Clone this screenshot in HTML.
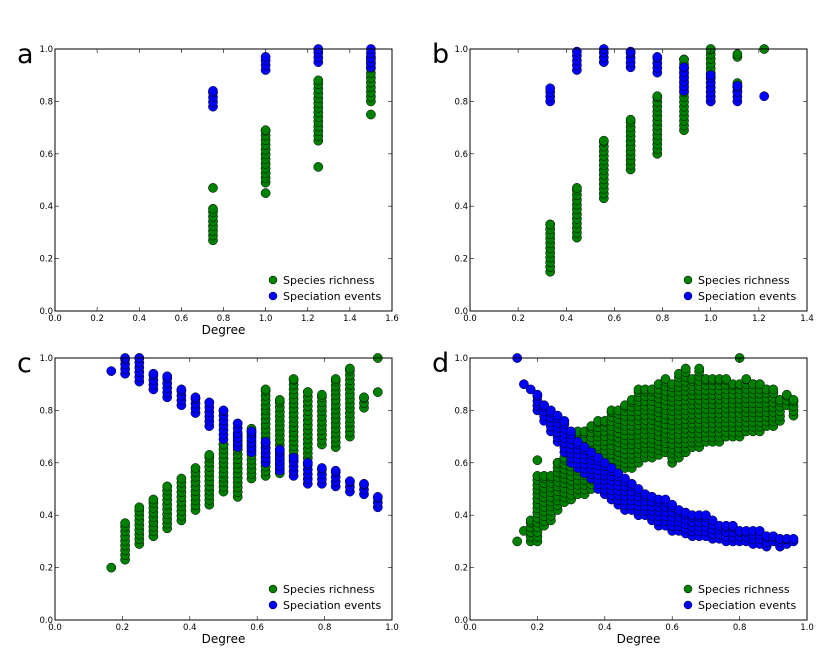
<!DOCTYPE html>
<html><head><meta charset="utf-8"><style>
body{margin:0;background:#fff;}
svg{display:block;font-family:"DejaVu Sans","Liberation Sans",sans-serif;}
</style></head><body>
<svg id="fig" width="831" height="653" viewBox="0 0 831 653" xmlns="http://www.w3.org/2000/svg"></svg>
<script>
// Panel a: [x, lo, hi] columns
const aGreen=[[0.75,0.27,0.39],[0.75,0.47,0.47],[1.0,0.45,0.45],[1.0,0.49,0.69],[1.25,0.55,0.55],[1.25,0.65,0.88],[1.5,0.75,0.75],[1.5,0.8,0.97]];
const aBlue=[[0.75,0.78,0.84],[1.0,0.92,0.97],[1.25,0.95,1.0],[1.5,0.93,1.0]];
// Panel b
const bGreen=[[0.333,0.15,0.33],[0.444,0.28,0.47],[0.556,0.43,0.65],[0.667,0.54,0.73],[0.778,0.6,0.82],[0.889,0.69,0.96],[1.0,0.8,1.0],[1.111,0.84,0.87],[1.111,0.97,0.98],[1.222,1.0,1.0]];
const bBlue=[[0.333,0.8,0.85],[0.444,0.92,0.99],[0.556,0.95,1.0],[0.667,0.93,0.99],[0.778,0.91,0.97],[0.889,0.84,0.93],[1.0,0.8,0.9],[1.111,0.8,0.86],[1.222,0.82,0.82]];
// Panel c
const cGreen=[[0.167,0.2,0.2],[0.208,0.23,0.37],[0.25,0.29,0.43],[0.292,0.32,0.46],[0.333,0.35,0.51],[0.375,0.38,0.54],[0.417,0.42,0.58],[0.458,0.44,0.63],[0.5,0.49,0.67],[0.542,0.47,0.71],[0.583,0.54,0.73],[0.625,0.55,0.88],[0.667,0.56,0.84],[0.708,0.61,0.92],[0.75,0.6,0.87],[0.792,0.67,0.86],[0.833,0.66,0.92],[0.875,0.7,0.96],[0.917,0.81,0.85],[0.958,0.87,0.87],[0.958,1.0,1.0]];
const cBlue=[[0.167,0.95,0.95],[0.208,0.94,1.0],[0.25,0.91,1.0],[0.292,0.88,0.94],[0.333,0.85,0.93],[0.375,0.82,0.88],[0.417,0.79,0.85],[0.458,0.74,0.83],[0.5,0.69,0.8],[0.542,0.66,0.75],[0.583,0.64,0.72],[0.625,0.6,0.68],[0.667,0.57,0.65],[0.708,0.55,0.62],[0.75,0.52,0.6],[0.792,0.52,0.58],[0.833,0.51,0.57],[0.875,0.49,0.53],[0.917,0.48,0.52],[0.958,0.43,0.47]];
// Panel d
const dGreen=[[0.14,0.3,0.3],[0.16,0.34,0.34],[0.18,0.3,0.38],[0.2,0.3,0.55],[0.2,0.61,0.61],[0.22,0.36,0.55],[0.24,0.38,0.55],[0.26,0.42,0.6],[0.28,0.45,0.62],[0.3,0.46,0.7],[0.32,0.48,0.72],[0.34,0.48,0.72],[0.36,0.5,0.74],[0.38,0.52,0.76],[0.4,0.54,0.76],[0.42,0.56,0.8],[0.44,0.57,0.8],[0.46,0.58,0.82],[0.48,0.58,0.84],[0.5,0.6,0.88],[0.52,0.62,0.88],[0.54,0.62,0.88],[0.56,0.63,0.9],[0.58,0.64,0.92],[0.6,0.6,0.9],[0.62,0.62,0.94],[0.64,0.64,0.96],[0.66,0.66,0.92],[0.68,0.66,0.96],[0.7,0.68,0.92],[0.72,0.68,0.92],[0.74,0.68,0.92],[0.76,0.7,0.92],[0.78,0.7,0.9],[0.8,0.7,0.9],[0.8,1.0,1.0],[0.82,0.72,0.92],[0.84,0.72,0.9],[0.86,0.72,0.9],[0.88,0.74,0.88],[0.9,0.74,0.88],[0.92,0.76,0.84],[0.94,0.82,0.86],[0.96,0.78,0.84]];
const dBlue=[[0.14,1.0,1.0],[0.16,0.9,0.9],[0.18,0.88,0.88],[0.2,0.8,0.86],[0.22,0.76,0.82],[0.24,0.72,0.8],[0.26,0.68,0.78],[0.28,0.64,0.76],[0.3,0.6,0.72],[0.32,0.58,0.68],[0.34,0.56,0.66],[0.36,0.54,0.64],[0.38,0.5,0.62],[0.4,0.48,0.6],[0.42,0.46,0.58],[0.44,0.44,0.56],[0.46,0.42,0.54],[0.48,0.42,0.52],[0.5,0.4,0.5],[0.52,0.4,0.48],[0.54,0.38,0.47],[0.56,0.36,0.46],[0.58,0.36,0.46],[0.6,0.34,0.44],[0.62,0.34,0.42],[0.64,0.33,0.41],[0.66,0.32,0.4],[0.68,0.32,0.4],[0.7,0.32,0.4],[0.72,0.31,0.38],[0.74,0.31,0.36],[0.76,0.3,0.36],[0.78,0.3,0.36],[0.8,0.3,0.34],[0.82,0.3,0.34],[0.84,0.29,0.34],[0.86,0.29,0.34],[0.88,0.28,0.32],[0.9,0.3,0.32],[0.92,0.28,0.31],[0.94,0.29,0.31],[0.96,0.3,0.31]];
const aXTicks=["0.0","0.2","0.4","0.6","0.8","1.0","1.2","1.4","1.6"];
const bXTicks=["0.0","0.2","0.4","0.6","0.8","1.0","1.2","1.4"];
const cdXTicks=["0.0","0.2","0.4","0.6","0.8","1.0"];
const yTicks=["0.0","0.2","0.4","0.6","0.8","1.0"];

const NS="http://www.w3.org/2000/svg";
const svg=document.getElementById('fig');
function mk(tag,attrs,parent){const e=document.createElementNS(NS,tag);for(const k in attrs)e.setAttribute(k,attrs[k]);(parent||svg).appendChild(e);return e;}

function panel(name,L,T,R,B,xmax,xticks,green,blue,label,showX){
  const g=mk('g',{});
  
  
  const sx=v=>L+(v/xmax)*(R-L);
  const sy=v=>B-v*(B-T);
  const lab=mk('text',{x:L-38,y:T+14,'font-size':27},g);lab.textContent=label;
  
  
  const pts=mk('g',{},g);
  
  
  function draw(cols,fill,series){
    cols.forEach(c=>{
      const x=c[0];
      for(let y=c[1];y<=c[2]+1e-9;y+=0.018){
        const p=mk('circle',{cx:sx(x).toFixed(1),cy:sy(y).toFixed(1),r:4.6,fill:fill,stroke:'#000','stroke-width':0.5},pts);
        
        
      }
      if(c[2]>c[1]){const p=mk('circle',{cx:sx(x).toFixed(1),cy:sy(c[2]).toFixed(1),r:4.6,fill:fill,stroke:'#000','stroke-width':0.5},pts);
        
        }
    });
  }
  draw(green,'#008000','species-richness');
  draw(blue,'#0000ff','speciation-events');
  const fr=mk('rect',{x:L,y:T,width:R-L,height:B-T,fill:'none',stroke:'#000','stroke-width':1},g);
  
  
  const xa=mk('g',{},g);
  
  
  xticks.forEach(t=>{const x=sx(parseFloat(t));
    mk('line',{x1:x,y1:B,x2:x,y2:B-4,stroke:'#000','stroke-width':0.6},xa);
    mk('line',{x1:x,y1:T,x2:x,y2:T+4,stroke:'#000','stroke-width':0.6},xa);
    const tx=mk('text',{x:x,y:B+10,'font-size':8.5,'text-anchor':'middle'},xa);tx.textContent=t;
    
    });
  const ya=mk('g',{},g);
  
  
  yTicks.forEach(t=>{const y=sy(parseFloat(t));
    mk('line',{x1:L,y1:y,x2:L+4,y2:y,stroke:'#000','stroke-width':0.6},ya);
    mk('line',{x1:R,y1:y,x2:R-4,y2:y,stroke:'#000','stroke-width':0.6},ya);
    const tx=mk('text',{x:L-2,y:y+3,'font-size':8.5,'text-anchor':'end'},ya);tx.textContent=t;
    
    });
  if(showX){const xt=mk('text',{x:(L+R)/2,y:B+23,'font-size':12,'text-anchor':'middle'},g);xt.textContent='Degree';
    
    }
  const lg=mk('g',{},g);
  
  
  [['Species richness','#008000',B-27],['Speciation events','#0000ff',B-11]].forEach(e=>{
    const en=mk('g',{},lg);
    
    
    mk('circle',{cx:R-119,cy:e[2]-4,r:4,fill:e[1],stroke:'#000','stroke-width':0.5},en);
    const t=mk('text',{x:R-109,y:e[2],'font-size':11},en);t.textContent=e[0];
  });
}
panel('a',55,49,392,311,1.6,aXTicks,aGreen,aBlue,'a',true);
panel('b',470,49,807,311,1.4,bXTicks,bGreen,bBlue,'b',false);
panel('c',55,358,392,620,1.0,cdXTicks,cGreen,cBlue,'c',true);
panel('d',470,358,807,620,1.0,cdXTicks,dGreen,dBlue,'d',true);
</script>
</body></html>
